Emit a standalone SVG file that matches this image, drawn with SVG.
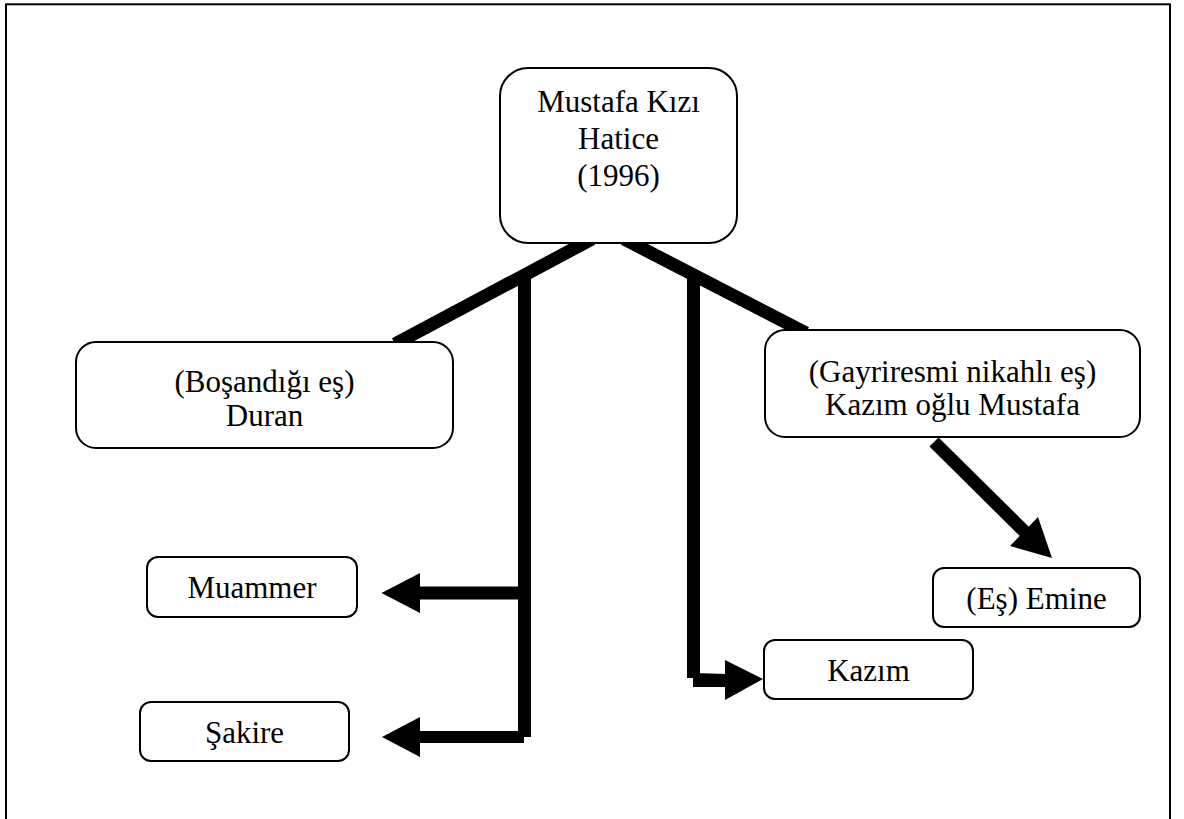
<svg xmlns="http://www.w3.org/2000/svg" width="1184" height="819" viewBox="0 0 1184 819">
<style>
.box{fill:#fff;stroke:#000;stroke-width:2}
.t{font-family:"Liberation Serif","Times New Roman",serif;font-size:31px;fill:#000;text-anchor:middle}
.ln{stroke:#000;stroke-width:13;fill:none}
.ah{fill:#000}
</style>
<rect x="0" y="0" width="1184" height="819" fill="#fff"/>
<rect x="6" y="4.3" width="1164" height="830" fill="none" stroke="#000" stroke-width="2"/>
<g id="connectors">
<line class="ln" x1="592" y1="239" x2="395" y2="344"/>
<line class="ln" x1="624" y1="239" x2="806" y2="333"/>
<rect class="ah" x="518" y="275" width="13" height="462"/>
<rect class="ah" x="418" y="731" width="106" height="12"/>
<rect class="ah" x="418" y="586.5" width="106" height="13"/>
<rect class="ah" x="687" y="275" width="13" height="403"/>
<polygon class="ah" points="693,673 727,674 727,687 693,687"/>
<line class="ln" x1="934" y1="442" x2="1027" y2="534"/>
<polygon class="ah" points="381.5,593 420,573 420,613"/>
<polygon class="ah" points="382,737 420,717 420,757"/>
<polygon class="ah" points="763,679 725,660 725,700"/>
<polygon class="ah" points="1052,558 1010,546 1038,517"/>
</g>
<g id="n-hatice">
<rect class="box" x="500" y="68" width="237" height="175" rx="28"/>
<text class="t" x="618.5" y="112">Mustafa Kızı</text>
<text class="t" x="618.5" y="149">Hatice</text>
<text class="t" x="618.5" y="186">(1996)</text>
</g>
<g id="n-duran">
<rect class="box" x="76" y="342" width="377" height="106" rx="20"/>
<text class="t" x="264.5" y="392">(Boşandığı eş)</text>
<text class="t" x="264.5" y="426">Duran</text>
</g>
<g id="n-mustafa">
<rect class="box" x="765" y="330" width="375" height="107" rx="20"/>
<text class="t" x="952.5" y="382">(Gayriresmi nikahlı eş)</text>
<text class="t" x="952.5" y="415">Kazım oğlu Mustafa</text>
</g>
<g id="n-muammer">
<rect class="box" x="147" y="557" width="210" height="60" rx="11"/>
<text class="t" x="252" y="598">Muammer</text>
</g>
<g id="n-sakire">
<rect class="box" x="140" y="702" width="209" height="59" rx="11"/>
<text class="t" x="244.5" y="743">Şakire</text>
</g>
<g id="n-kazim">
<rect class="box" x="764" y="640" width="209" height="59" rx="11"/>
<text class="t" x="868.5" y="681">Kazım</text>
</g>
<g id="n-emine">
<rect class="box" x="933" y="568" width="207" height="59" rx="11"/>
<text class="t" x="1036.5" y="609">(Eş) Emine</text>
</g>
</svg>
